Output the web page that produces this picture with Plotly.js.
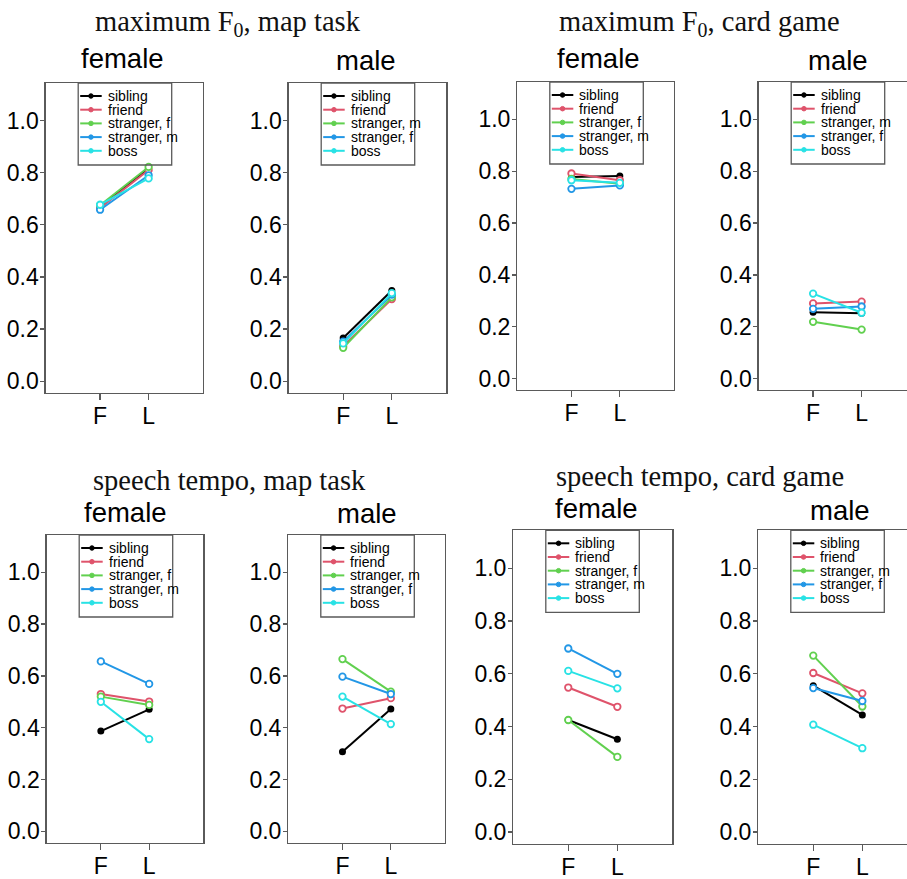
<!DOCTYPE html>
<html>
<head>
<meta charset="utf-8">
<script src="https://cdn.plot.ly/plotly-3.0.1.min.js"></script>
<style>
html, body { margin: 0; padding: 0; overflow: hidden; background: #fff; }
#chart { width: 922px; height: 879px; }
</style>
</head>
<body>
<div id="chart"></div>
<script>
// ---------------- data ----------------
const positions = [1, 2];
const positionLabels = ['F', 'L'];
const yTickVals = [0, 0.2, 0.4, 0.6, 0.8, 1.0];
const yTickText = ['0.0', '0.2', '0.4', '0.6', '0.8', '1.0'];

const labelsFemale = ['sibling', 'friend', 'stranger, f', 'stranger, m', 'boss'];
const labelsMale = ['sibling', 'friend', 'stranger, m', 'stranger, f', 'boss'];

const groupTitles = ['maximum F<sub>0</sub>, map task', 'maximum F<sub>0</sub>, card game',
                     'speech tempo, map task', 'speech tempo, card game'];
const panelTitles = ['female', 'male'];

// F (first) and L (last) values per series, in legend order
const f0MapFemaleF = [0.668, 0.665, 0.675, 0.658, 0.677];
const f0MapFemaleL = [0.818, 0.810, 0.822, 0.790, 0.778];
const f0MapMaleF = [0.166, 0.135, 0.128, 0.152, 0.145];
const f0MapMaleL = [0.348, 0.315, 0.322, 0.332, 0.338];
const f0CardFemaleF = [0.778, 0.791, 0.770, 0.732, 0.765];
const f0CardFemaleL = [0.781, 0.765, 0.752, 0.745, 0.755];
const f0CardMaleF = [0.256, 0.290, 0.219, 0.269, 0.328];
const f0CardMaleL = [0.252, 0.297, 0.189, 0.278, 0.254];
const tempoMapFemaleF = [0.387, 0.530, 0.520, 0.656, 0.500];
const tempoMapFemaleL = [0.471, 0.501, 0.488, 0.569, 0.356];
const tempoMapMaleF = [0.307, 0.474, 0.665, 0.597, 0.520];
const tempoMapMaleL = [0.472, 0.514, 0.539, 0.530, 0.414];
const tempoCardFemaleF = [0.425, 0.548, 0.425, 0.696, 0.611];
const tempoCardFemaleL = [0.352, 0.475, 0.285, 0.600, 0.545];
const tempoCardMaleF = [0.555, 0.603, 0.669, 0.546, 0.407];
const tempoCardMaleL = [0.444, 0.526, 0.476, 0.497, 0.318];

// ---------------- styles / layout ----------------
const colors = ['#000000', '#DF536B', '#61D04F', '#2297E6', '#28E2E5'];
const W = 922, H = 879;
const px = v => v / W;
const py = v => 1 - v / H;

const panels = [
  {F: f0MapFemaleF, L: f0MapFemaleL, labels: labelsFemale, box: [45.7, 203, 83, 392.7], title: 0, tx: 123, ty: 58},
  {F: f0MapMaleF, L: f0MapMaleL, labels: labelsMale, box: [288.7, 446.3, 83, 392.7], title: 1, tx: 366, ty: 60},
  {F: f0CardFemaleF, L: f0CardFemaleL, labels: labelsFemale, box: [517.3, 674, 82, 390], title: 0, tx: 598, ty: 58},
  {F: f0CardMaleF, L: f0CardMaleL, labels: labelsMale, box: [758.7, 916, 82, 390], title: 1, tx: 838, ty: 60},
  {F: tempoMapFemaleF, L: tempoMapFemaleL, labels: labelsFemale, box: [46.7, 203.3, 535, 842.7], title: 0, tx: 125, ty: 512},
  {F: tempoMapMaleF, L: tempoMapMaleL, labels: labelsMale, box: [288.3, 445, 535, 842.7], title: 1, tx: 366.5, ty: 513.5},
  {F: tempoCardFemaleF, L: tempoCardFemaleL, labels: labelsFemale, box: [513.3, 672.3, 530.3, 843.7], title: 0, tx: 596, ty: 508},
  {F: tempoCardMaleF, L: tempoCardMaleL, labels: labelsMale, box: [758.3, 917.3, 530.3, 843.7], title: 1, tx: 840, ty: 510}
];
const groupPos = [[228, 24], [699, 24], [229, 481], [700, 476]];

const traces = [];
const layout = {
  width: W, height: H,
  margin: {l: 0, r: 0, t: 0, b: 0},
  paper_bgcolor: '#fff', plot_bgcolor: '#fff',
  showlegend: false,
  shapes: [], annotations: []
};

const axisLine = '#5a5a5a';
panels.forEach((p, i) => {
  const n = i + 1;
  const xa = 'xaxis' + (n === 1 ? '' : n);
  const ya = 'yaxis' + (n === 1 ? '' : n);
  const xr = 'x' + (n === 1 ? '' : n);
  const yr = 'y' + (n === 1 ? '' : n);
  const [l, r, t, b] = p.box;
  layout[xa] = {
    domain: [px(l), px(r)], anchor: yr,
    range: [-0.12, 3.12], tickvals: positions, ticktext: positionLabels,
    showline: true, mirror: true, linecolor: axisLine, linewidth: 1.3,
    ticks: 'outside', ticklen: 6, tickcolor: axisLine, tickwidth: 1.3,
    ticklabelstandoff: -4,
    showgrid: false, zeroline: false, fixedrange: true,
    tickfont: {family: 'Liberation Sans, Arial, sans-serif', size: 23, color: '#000'}
  };
  layout[ya] = {
    domain: [py(b), py(t)], anchor: xr,
    range: [-0.044, 1.144], tickvals: yTickVals, ticktext: yTickText,
    showline: true, mirror: true, linecolor: axisLine, linewidth: 1.3,
    ticks: 'outside', ticklen: 4, tickcolor: axisLine, tickwidth: 1.3,
    ticklabelstandoff: -3,
    showgrid: false, zeroline: false, fixedrange: true,
    tickfont: {family: 'Liberation Sans, Arial, sans-serif', size: 23, color: '#000'}
  };

  p.labels.forEach((lab, s) => {
    traces.push({
      type: 'scatter', mode: 'lines+markers', name: lab,
      x: positions, y: [p.F[s], p.L[s]],
      xaxis: xr, yaxis: yr,
      line: {color: colors[s], width: 2},
      marker: s === 0
        ? {symbol: 'circle', size: 7, color: colors[s]}
        : {symbol: 'circle', size: 6.5, color: '#fff', line: {color: colors[s], width: 1.8}},
      hoverinfo: 'skip'
    });
  });

  // manual legend
  const lx0 = l + 32.5, lx1 = l + 126, ly0 = t, ly1 = t + 82;
  layout.shapes.push({type: 'rect', xref: 'paper', yref: 'paper',
    x0: px(lx0), x1: px(lx1), y0: py(ly1), y1: py(ly0),
    line: {color: axisLine, width: 1.3}, fillcolor: 'rgba(0,0,0,0)', layer: 'above'});
  p.labels.forEach((lab, s) => {
    const yy = t + 13 + s * 13.7;
    layout.shapes.push({type: 'line', xref: 'paper', yref: 'paper',
      x0: px(l + 34.5), x1: px(l + 56), y0: py(yy), y1: py(yy),
      line: {color: colors[s], width: 2}, layer: 'above'});
    layout.shapes.push({type: 'circle', xref: 'paper', yref: 'paper',
      x0: px(l + 43), x1: px(l + 47.5), y0: py(yy + 2.25), y1: py(yy - 2.25),
      line: {color: colors[s], width: 1}, fillcolor: colors[s], layer: 'above'});
    layout.annotations.push({xref: 'paper', yref: 'paper',
      x: px(l + 61), y: py(yy), xanchor: 'left', yanchor: 'middle',
      text: lab, showarrow: false, borderpad: 0,
      font: {family: 'Liberation Sans, Arial, sans-serif', size: 14, color: '#000'}});
  });

  layout.annotations.push({xref: 'paper', yref: 'paper',
    x: px(p.tx), y: py(p.ty), xanchor: 'center', yanchor: 'middle',
    text: panelTitles[p.title], showarrow: false,
    font: {family: 'Liberation Sans, Arial, sans-serif', size: 27.5, color: '#000'}});
});

groupTitles.forEach((g, i) => {
  layout.annotations.push({xref: 'paper', yref: 'paper',
    x: px(groupPos[i][0]), y: py(groupPos[i][1]), xanchor: 'center', yanchor: 'middle',
    text: g, showarrow: false,
    font: {family: 'Liberation Serif, Times New Roman, serif', size: 28.5, color: '#111'}});
});

Plotly.newPlot('chart', traces, layout, {displayModeBar: false, staticPlot: true});
</script>
</body>
</html>
